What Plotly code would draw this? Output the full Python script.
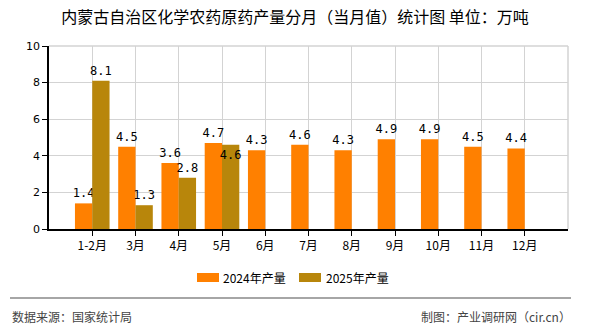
import plotly.graph_objects as go

categories = ["1-2月", "3月", "4月", "5月", "6月", "7月", "8月", "9月", "10月", "11月", "12月"]
values_2024 = [1.4, 4.5, 3.6, 4.7, 4.3, 4.6, 4.3, 4.9, 4.9, 4.5, 4.4]
values_2025 = [8.1, 1.3, 2.8, 4.6, None, None, None, None, None, None, None]
series_names = ["2024年产量", "2025年产量"]
series_colors = ["#FF8000", "#B8860B"]
title_text = "内蒙古自治区化学农药原药产量分月（当月值）统计图 单位：万吨"
source_text = "数据来源：国家统计局"
credit_text = "制图：产业调研网（cir.cn）"

label_font = dict(family="DejaVu Sans Mono, monospace", size=12, color="#000000")
cjk = "Noto Sans CJK SC"

# pixel helpers for paper coords (plot area: x 49..568, y 46..229)
L, R, T, B = 49, 568, 46, 229
def px(x):
    return (x - L) / (R - L)
def py(y):
    return (B - y) / (B - T)

pos_2025 = ["inside" if i == 3 else "outside" for i in range(len(values_2025))]

fig = go.Figure()
fig.add_trace(go.Bar(
    x=categories, y=values_2024, name=series_names[0],
    marker=dict(color=series_colors[0], line=dict(width=0)),
    text=[f"{v:.1f}" for v in values_2024], textposition="outside",
    textfont=label_font, cliponaxis=False, constraintext="none", textangle=0,
))
fig.add_trace(go.Bar(
    x=categories, y=values_2025, name=series_names[1],
    marker=dict(color=series_colors[1], line=dict(width=0)),
    text=[f"{v:.1f}" if v is not None else "" for v in values_2025],
    textposition=pos_2025, insidetextanchor="end",
    textfont=label_font, insidetextfont=label_font, outsidetextfont=label_font,
    cliponaxis=False, constraintext="none", textangle=0,
))

fig.update_layout(
    width=590, height=330,
    margin=dict(l=L, r=590 - R, t=T, b=330 - B),
    paper_bgcolor="white", plot_bgcolor="white",
    barmode="group", bargap=0.2, bargroupgap=0,
    title=dict(text=title_text, x=0.5, xref="container", xanchor="center",
               y=1 - 17 / 330, yref="container", yanchor="middle",
               font=dict(family=cjk, size=16, color="#000000")),
    showlegend=False,
    font=dict(family=cjk, size=12, color="#000000"),
)

fig.update_xaxes(
    type="category", range=[-1, 11],
    showline=True, linecolor="#000000", linewidth=1.5,
    showgrid=True, gridcolor="#d3d3d3", gridwidth=1,
    ticks="outside", ticklen=5, tickcolor="#000000",
    tickfont=dict(family=cjk, size=12, color="#000000"),
    zeroline=False, fixedrange=True,
)
fig.update_yaxes(
    range=[0, 10], dtick=2,
    showline=True, linecolor="#000000", linewidth=1.5,
    showgrid=True, gridcolor="#d3d3d3", gridwidth=1,
    ticks="outside", ticklen=5, tickcolor="#000000",
    tickfont=dict(family="DejaVu Sans, sans-serif", size=11, color="#000000"),
    zeroline=False, fixedrange=True,
)

# plot frame (top/right in grey)
fig.add_shape(type="line", xref="paper", yref="paper", x0=0, x1=1, y0=1, y1=1,
              line=dict(color="#d3d3d3", width=1.5), layer="below")
fig.add_shape(type="line", xref="paper", yref="paper", x0=1, x1=1, y0=0, y1=1,
              line=dict(color="#d3d3d3", width=1.5), layer="below")

# custom legend
legend_boxes = [(197, 219, 223), (299, 321, 326)]
for (bx0, bx1, tx), name, color in zip(legend_boxes, series_names, series_colors):
    fig.add_shape(type="rect", xref="paper", yref="paper",
                  x0=px(bx0), x1=px(bx1), y0=py(282), y1=py(273),
                  fillcolor=color, line=dict(width=0))
    fig.add_annotation(text=name, xref="paper", yref="paper",
                       x=px(tx), xanchor="left", y=py(277), yanchor="middle",
                       showarrow=False, xshift=-2,
                       font=dict(family=cjk, size=12, color="#000000"))

# footer separator
fig.add_shape(type="line", xref="paper", yref="paper",
              x0=px(10), x1=px(571), y0=py(298), y1=py(298),
              line=dict(color="#888888", width=1.5))

fig.add_annotation(text=source_text, xref="paper", yref="paper",
                   x=px(12), xanchor="left", xshift=-2,
                   y=py(316), yanchor="middle", showarrow=False,
                   font=dict(family=cjk, size=12, color="#444444"))
fig.add_annotation(text=credit_text, xref="paper", yref="paper",
                   x=px(571), xanchor="right", xshift=2,
                   y=py(316), yanchor="middle", showarrow=False,
                   font=dict(family=cjk, size=12, color="#444444"))

fig.write_html("out.html", config={"displayModeBar": False})
